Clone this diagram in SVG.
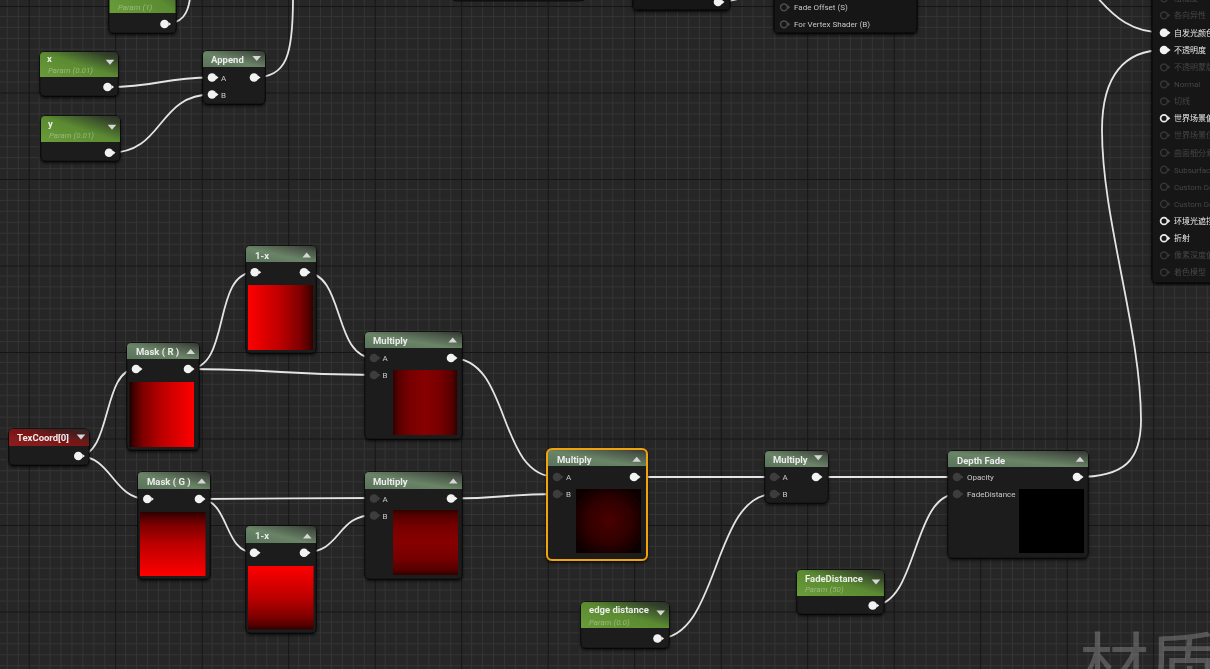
<svg xmlns="http://www.w3.org/2000/svg" width="1210" height="669" viewBox="0 0 1210 669">
<style>
.body{fill:#1c1d1b;stroke:#0b0b0b;stroke-width:1}
.dark{fill:#141514;stroke:#0b0b0b;stroke-width:1}
.t{font-family:Roboto,"Noto Sans CJK SC",sans-serif;font-size:9.5px;font-weight:700;fill:#ececec}
.p{font-family:Roboto,sans-serif;font-size:8px;font-style:italic;fill:#9ab87a}
.l{font-family:Roboto,"Noto Sans CJK SC",sans-serif;font-size:8px;fill:#c8c8c8}
.pl{font-family:Roboto,"Noto Sans CJK SC",sans-serif;font-size:8px;fill:#ededed}
.pf{font-family:Roboto,"Noto Sans CJK SC",sans-serif;font-size:8px;fill:#474747}
.w{fill:none;stroke:#e4e4e4;stroke-width:1.8}
.tri{fill:#d6d6d6}
</style>
<defs>
<pattern id="grid" patternUnits="userSpaceOnUse" x="28.7" y="6" width="86.5" height="86.5">
<rect width="86.5" height="86.5" fill="#262626"/>
<g stroke="#343434" stroke-width="1" shape-rendering="crispEdges">
<path d="M10.81,0V86.5M21.63,0V86.5M32.44,0V86.5M43.25,0V86.5M54.06,0V86.5M64.88,0V86.5M75.69,0V86.5"/>
<path d="M0,10.81H86.5M0,21.63H86.5M0,32.44H86.5M0,43.25H86.5M0,54.06H86.5M0,64.88H86.5M0,75.69H86.5"/>
</g>
<path d="M0.5,0V86.5M0,0.5H86.5" stroke="#151515" stroke-width="1" shape-rendering="crispEdges"/>
</pattern>
<linearGradient id="hP" x1="0" y1="1" x2="1" y2="0">
<stop offset="0" stop-color="#6a9c3a"/><stop offset="0.5" stop-color="#5b8b31"/><stop offset="0.85" stop-color="#34432b"/><stop offset="1" stop-color="#2a2e28"/>
</linearGradient>
<linearGradient id="hF" x1="0" y1="1" x2="1" y2="0">
<stop offset="0" stop-color="#58735a"/><stop offset="0.45" stop-color="#6a8467"/><stop offset="0.8" stop-color="#4a5648"/><stop offset="1" stop-color="#30352f"/>
</linearGradient>
<linearGradient id="hT" x1="0" y1="1" x2="1" y2="0">
<stop offset="0" stop-color="#8e1d1d"/><stop offset="0.5" stop-color="#7a1818"/><stop offset="0.85" stop-color="#3c2020"/><stop offset="1" stop-color="#2a2626"/>
</linearGradient>
<linearGradient id="gR" x1="0" y1="0" x2="1" y2="0">
<stop offset="0" stop-color="#1a0000"/><stop offset="0.06" stop-color="#420000"/><stop offset="0.2" stop-color="#7c0000"/><stop offset="0.5" stop-color="#bc0000"/><stop offset="1" stop-color="#ff0000"/>
</linearGradient>
<linearGradient id="gRi" x1="1" y1="0" x2="0" y2="0">
<stop offset="0" stop-color="#300000"/><stop offset="0.06" stop-color="#500000"/><stop offset="0.2" stop-color="#800000"/><stop offset="0.5" stop-color="#bc0000"/><stop offset="1" stop-color="#ff0000"/>
</linearGradient>
<linearGradient id="gG" x1="0" y1="0" x2="0" y2="1">
<stop offset="0" stop-color="#2a0000"/><stop offset="0.06" stop-color="#480000"/><stop offset="0.2" stop-color="#7c0000"/><stop offset="0.5" stop-color="#bc0000"/><stop offset="1" stop-color="#ff0000"/>
</linearGradient>
<linearGradient id="gGi" x1="0" y1="1" x2="0" y2="0">
<stop offset="0" stop-color="#300000"/><stop offset="0.06" stop-color="#500000"/><stop offset="0.2" stop-color="#800000"/><stop offset="0.5" stop-color="#bc0000"/><stop offset="1" stop-color="#ff0000"/>
</linearGradient>
<linearGradient id="gM" x1="0" y1="0" x2="1" y2="0">
<stop offset="0" stop-color="#300000"/><stop offset="0.08" stop-color="#560000"/><stop offset="0.25" stop-color="#760000"/><stop offset="0.5" stop-color="#880000"/><stop offset="0.75" stop-color="#760000"/><stop offset="0.92" stop-color="#560000"/><stop offset="1" stop-color="#300000"/>
</linearGradient>
<linearGradient id="gMv" x1="0" y1="0" x2="0" y2="1">
<stop offset="0" stop-color="#300000"/><stop offset="0.08" stop-color="#560000"/><stop offset="0.25" stop-color="#760000"/><stop offset="0.5" stop-color="#880000"/><stop offset="0.75" stop-color="#760000"/><stop offset="0.92" stop-color="#560000"/><stop offset="1" stop-color="#300000"/>
</linearGradient>
<radialGradient id="gC" cx="0.5" cy="0.5" r="0.6">
<stop offset="0" stop-color="#4a0000"/><stop offset="0.6" stop-color="#2e0000"/><stop offset="1" stop-color="#0c0000"/>
</radialGradient>
<filter id="sh" x="-10%" y="-10%" width="120%" height="125%">
<feDropShadow dx="0" dy="1.5" stdDeviation="1.5" flood-color="#000" flood-opacity="0.75"/>
</filter>
<g id="pw"><circle r="4.3" fill="#f2f2f2"/><path d="M4,-2L6.5,0L4,2Z" fill="#f2f2f2"/></g>
<g id="pg"><circle r="4.3" fill="#3c3c3c"/><path d="M4,-2L6.5,0L4,2Z" fill="#3c3c3c"/></g>
<g id="ph"><circle r="3.4" fill="none" stroke="#e8e8e8" stroke-width="1.7"/><path d="M4,-2L6.3,0L4,2Z" fill="#e8e8e8"/></g>
<g id="pf"><circle r="3.4" fill="none" stroke="#363636" stroke-width="1.5"/><path d="M4,-2L6.3,0L4,2Z" fill="#363636"/></g>
<g id="pgh"><circle r="3.4" fill="none" stroke="#4c4c4c" stroke-width="1.5"/><path d="M4,-2L6.3,0L4,2Z" fill="#4c4c4c"/></g>
<path id="tu" d="M-4.3,2.5H4.3L0,-2.5Z"/>
<path id="td" d="M-4.3,-2.5H4.3L0,2.5Z"/>
</defs>

<rect width="1210" height="669" fill="url(#grid)"/>
<text x="1079" y="691" font-family="'Noto Sans CJK SC',sans-serif" font-size="70" fill="#ffffff" fill-opacity="0.22">材质</text>

<g id="connectors">
<path class="w" d="M164,24 C182,24 188,14 190,-2"/>
<path class="w" d="M254,77.5 C287,77.5 293,55 293,-2"/>
<path class="w" d="M108,87 C160,87 160,77.5 212,77.5"/>
<path class="w" d="M109,153 C165,153 156,94.5 212,94.5"/>
<path class="w" d="M718,2 C730,2 738,-1 748,-4"/>
<path class="w" d="M1096,-4 C1115,18 1132,32.7 1164,32.7"/>
<path class="w" d="M1077,477 C1125,477 1141,460 1141,420 C1141,330 1102,220 1102,130 C1102,75 1125,50 1164,50"/>
<path class="w" d="M78,456 C112,456 102,369 136,369"/>
<path class="w" d="M78,456 C112,456 113,499 147,499"/>
<path class="w" d="M188,369 C232,369 211,272 255,272"/>
<path class="w" d="M188,369 C280,369 282,375 374,375"/>
<path class="w" d="M304,272 C346,272 332,358 374,358"/>
<path class="w" d="M199,499 C290,499 290,498 374,498"/>
<path class="w" d="M199,499 C230,499 223,552.5 254,552.5"/>
<path class="w" d="M304,552.5 C342,552.5 336,515 374,515"/>
<path class="w" d="M451,358 C512,358 496,477 557,477"/>
<path class="w" d="M451,498.5 C505,498.5 503,494 557,494"/>
<path class="w" d="M634,477 L774,477"/>
<path class="w" d="M658,638.5 C720,638.5 712,494 774,494"/>
<path class="w" d="M816,477 L957,477"/>
<path class="w" d="M873,605.5 C918,605.5 912,494 957,494"/>
</g>

<g id="node-top-shadow">
<rect class="dark" x="452" y="-40" width="133" height="41" rx="4"/>
</g>

<g id="node-top-left-param" filter="url(#sh)">
<rect class="body" x="109" y="-40" width="67" height="73" rx="4"/>
<rect x="109.5" y="-40" width="66" height="53" fill="url(#hP)"/>
<text class="p" x="118" y="10">Param (1)</text>
<use href="#pw" x="164.5" y="24"/>
</g>

<g id="node-x" filter="url(#sh)">
<rect class="body" x="40" y="52" width="78" height="44" rx="4"/>
<path d="M40,77V56Q40,52 44,52H114Q118,52 118,56V77Z" fill="url(#hP)"/>
<text class="t" x="47" y="62">x</text>
<text class="p" x="48" y="73">Param (0.01)</text>
<use href="#td" class="tri" x="110" y="62.3"/>
<use href="#pw" x="107.5" y="87"/>
</g>

<g id="node-y" filter="url(#sh)">
<rect class="body" x="41" y="116" width="79" height="45" rx="4"/>
<path d="M41,142V120Q41,116 45,116H116Q120,116 120,120V142Z" fill="url(#hP)"/>
<text class="t" x="48" y="127">y</text>
<text class="p" x="49" y="137.5">Param (0.01)</text>
<use href="#td" class="tri" x="112" y="127.3"/>
<use href="#pw" x="109" y="152.7"/>
</g>

<g id="node-append" filter="url(#sh)">
<rect class="body" x="203" y="51" width="62" height="53" rx="4"/>
<path d="M203,67V55Q203,51 207,51H261Q265,51 265,55V67Z" fill="url(#hF)"/>
<text class="t" x="211" y="63">Append</text>
<use href="#td" class="tri" x="256.7" y="58.5"/>
<use href="#pw" x="212" y="77.5"/>
<use href="#pw" x="212" y="94.5"/>
<text class="l" x="221" y="80.5">A</text>
<text class="l" x="221" y="97.5">B</text>
<use href="#pw" x="254" y="77.5"/>
</g>

<g id="node-top-center" filter="url(#sh)">
<rect class="dark" x="633" y="-40" width="97" height="50" rx="4"/>
<use href="#pw" x="718" y="2"/>
</g>

<g id="node-fade-offset" filter="url(#sh)">
<rect class="dark" x="774" y="-40" width="143" height="73" rx="4"/>
<use href="#pgh" x="784" y="7.3"/>
<text class="l" x="794" y="10">Fade Offset (S)</text>
<use href="#pgh" x="784" y="24.3"/>
<text class="l" x="794" y="27">For Vertex Shader (B)</text>
</g>

<g id="node-material-result" filter="url(#sh)">
<path d="M1152,-10H1215V283H1157Q1152,283 1152,278Z" fill="#151615" stroke="#0b0b0b"/>
<use href="#pf" x="1164" y="-1.7"/><text class="pf" x="1174" y="1.3">粗糙度</text>
<use href="#pf" x="1164" y="15.3"/><text class="pf" x="1174" y="18.3">各向异性</text>
<use href="#pw" x="1164" y="32.7"/><text class="pl" x="1174" y="35.7">自发光颜色</text>
<use href="#pw" x="1164" y="50"/><text class="pl" x="1174" y="53">不透明度</text>
<use href="#pf" x="1164" y="67.3"/><text class="pf" x="1174" y="70.3">不透明蒙版</text>
<use href="#pf" x="1164" y="84.3"/><text class="pf" x="1174" y="87.3">Normal</text>
<use href="#pf" x="1164" y="101.3"/><text class="pf" x="1174" y="104.3">切线</text>
<use href="#ph" x="1164" y="118.3"/><text class="pl" x="1174" y="121.3">世界场景偏移</text>
<use href="#pf" x="1164" y="135.3"/><text class="pf" x="1174" y="138.3">世界场景位移</text>
<use href="#pf" x="1164" y="152.7"/><text class="pf" x="1174" y="155.7">曲面细分乘数</text>
<use href="#pf" x="1164" y="169.7"/><text class="pf" x="1174" y="172.7">Subsurface Color</text>
<use href="#pf" x="1164" y="186.7"/><text class="pf" x="1174" y="189.7">Custom Data 0</text>
<use href="#pf" x="1164" y="204"/><text class="pf" x="1174" y="207">Custom Data 1</text>
<use href="#ph" x="1164" y="221"/><text class="pl" x="1174" y="224">环境光遮挡</text>
<use href="#ph" x="1164" y="238.3"/><text class="pl" x="1174" y="241.3">折射</text>
<use href="#pf" x="1164" y="255.3"/><text class="pf" x="1174" y="258.3">像素深度偏移</text>
<use href="#pf" x="1164" y="272.3"/><text class="pf" x="1174" y="275.3">着色模型</text>
</g>

<g id="node-texcoord" filter="url(#sh)">
<rect class="body" x="9" y="429" width="80" height="36" rx="4"/>
<path d="M9,446V433Q9,429 13,429H85Q89,429 89,433V446Z" fill="url(#hT)"/>
<text class="t" x="17" y="441" font-weight="500">TexCoord[0]</text>
<use href="#td" class="tri" x="81" y="437"/>
<use href="#pw" x="78.3" y="456"/>
</g>

<g id="node-mask-r" filter="url(#sh)">
<rect class="body" x="127" y="343" width="72" height="107" rx="4"/>
<path d="M127,359V347Q127,343 131,343H195Q199,343 199,347V359Z" fill="url(#hF)"/>
<text class="t" x="136" y="355">Mask ( R )</text>
<use href="#tu" class="tri" x="190.7" y="351.5"/>
<use href="#pw" x="136" y="369"/>
<use href="#pw" x="188" y="369"/>
<rect x="129.5" y="382" width="64.5" height="65" fill="url(#gR)"/>
</g>

<g id="node-one-minus-top" filter="url(#sh)">
<rect class="body" x="246" y="246" width="70" height="107" rx="4"/>
<path d="M246,262V250Q246,246 250,246H312Q316,246 316,250V262Z" fill="url(#hF)"/>
<text class="t" x="255" y="258.5">1-x</text>
<use href="#tu" class="tri" x="306.7" y="255"/>
<use href="#pw" x="254.7" y="272.3"/>
<use href="#pw" x="304" y="272.3"/>
<rect x="248" y="285" width="65" height="65" fill="url(#gRi)"/>
</g>

<g id="node-multiply-top" filter="url(#sh)">
<rect class="body" x="365" y="332" width="97" height="107" rx="4"/>
<path d="M365,348V336Q365,332 369,332H458Q462,332 462,336V348Z" fill="url(#hF)"/>
<text class="t" x="373" y="344">Multiply</text>
<use href="#tu" class="tri" x="452.7" y="340"/>
<use href="#pg" x="374" y="358"/>
<use href="#pg" x="374" y="375"/>
<text class="l" x="382.5" y="361">A</text>
<text class="l" x="382.5" y="378">B</text>
<use href="#pw" x="451" y="358"/>
<rect x="393" y="370" width="64" height="65" fill="url(#gM)"/>
</g>

<g id="node-mask-g" filter="url(#sh)">
<rect class="body" x="138" y="472" width="72" height="107" rx="4"/>
<path d="M138,489V476Q138,472 142,472H206Q210,472 210,476V489Z" fill="url(#hF)"/>
<text class="t" x="147" y="484.5">Mask ( G )</text>
<use href="#tu" class="tri" x="201.7" y="481"/>
<use href="#pw" x="147.3" y="499"/>
<use href="#pw" x="199" y="499"/>
<rect x="140" y="512" width="65.5" height="64" fill="url(#gG)"/>
</g>

<g id="node-one-minus-bottom" filter="url(#sh)">
<rect class="body" x="246" y="526" width="70" height="107" rx="4"/>
<path d="M246,543V530Q246,526 250,526H312Q316,526 316,530V543Z" fill="url(#hF)"/>
<text class="t" x="255" y="538.5">1-x</text>
<use href="#tu" class="tri" x="307.3" y="536"/>
<use href="#pw" x="254" y="552.7"/>
<use href="#pw" x="304" y="552.7"/>
<rect x="248" y="566" width="65.5" height="63.5" fill="url(#gGi)"/>
</g>

<g id="node-multiply-bottom" filter="url(#sh)">
<rect class="body" x="365" y="472" width="97" height="107" rx="4"/>
<path d="M365,489V476Q365,472 369,472H458Q462,472 462,476V489Z" fill="url(#hF)"/>
<text class="t" x="373" y="484.5">Multiply</text>
<use href="#tu" class="tri" x="453.3" y="481"/>
<use href="#pg" x="374" y="498.5"/>
<use href="#pg" x="374" y="515.5"/>
<text class="l" x="382.5" y="501.5">A</text>
<text class="l" x="382.5" y="518.5">B</text>
<use href="#pw" x="451" y="498.5"/>
<rect x="393" y="510" width="65" height="65" fill="url(#gMv)"/>
</g>

<g id="node-multiply-center" filter="url(#sh)">
<rect class="body" x="547" y="449" width="100" height="111" rx="4"/>
<path d="M547,466V453Q547,449 551,449H643Q647,449 647,453V466Z" fill="url(#hF)"/>
<text class="t" x="557" y="463">Multiply</text>
<use href="#tu" class="tri" x="636.7" y="459.3"/>
<use href="#pg" x="557" y="477"/>
<use href="#pg" x="557" y="494"/>
<text class="l" x="566" y="480">A</text>
<text class="l" x="566" y="497">B</text>
<use href="#pw" x="634" y="477"/>
<rect x="576" y="489" width="65" height="64" fill="url(#gC)"/>
<rect x="547" y="449" width="100" height="111" rx="5" fill="none" stroke="#f0a30a" stroke-width="2"/>
</g>

<g id="node-multiply-small" filter="url(#sh)">
<rect class="body" x="765" y="451" width="63" height="52" rx="4"/>
<path d="M765,467V455Q765,451 769,451H824Q828,451 828,455V467Z" fill="url(#hF)"/>
<text class="t" x="773" y="463">Multiply</text>
<use href="#td" class="tri" x="818.3" y="457.7"/>
<use href="#pg" x="774" y="477"/>
<use href="#pg" x="774" y="494"/>
<text class="l" x="782.5" y="480">A</text>
<text class="l" x="782.5" y="497">B</text>
<use href="#pw" x="816" y="477"/>
</g>

<g id="node-edge-distance" filter="url(#sh)">
<rect class="body" x="581" y="602" width="88" height="46" rx="4"/>
<path d="M581,628V606Q581,602 585,602H665Q669,602 669,606V628Z" fill="url(#hP)"/>
<text class="t" x="589" y="613.3">edge distance</text>
<text class="p" x="589" y="624.5">Param (0.0)</text>
<use href="#td" class="tri" x="660.7" y="613"/>
<use href="#pw" x="657.5" y="638.5"/>
</g>

<g id="node-fade-distance" filter="url(#sh)">
<rect class="body" x="797" y="570" width="87" height="44" rx="4"/>
<path d="M797,596V574Q797,570 801,570H880Q884,570 884,574V596Z" fill="url(#hP)"/>
<text class="t" x="805" y="581.5">FadeDistance</text>
<text class="p" x="805" y="592">Param (50)</text>
<use href="#td" class="tri" x="876" y="582"/>
<use href="#pw" x="872.7" y="605.5"/>
</g>

<g id="node-depth-fade" filter="url(#sh)">
<rect class="body" x="948" y="451" width="140" height="107" rx="4"/>
<path d="M948,467V455Q948,451 952,451H1084Q1088,451 1088,455V467Z" fill="url(#hF)"/>
<text class="t" x="957" y="463.5">Depth Fade</text>
<use href="#tu" class="tri" x="1080" y="459.3"/>
<use href="#pg" x="957" y="477"/>
<use href="#pg" x="957" y="494"/>
<text class="l" x="967" y="480">Opacity</text>
<text class="l" x="967" y="497">FadeDistance</text>
<use href="#pw" x="1077" y="477"/>
<rect x="1019" y="489" width="65" height="64" fill="#000"/>
</g>
</svg>
